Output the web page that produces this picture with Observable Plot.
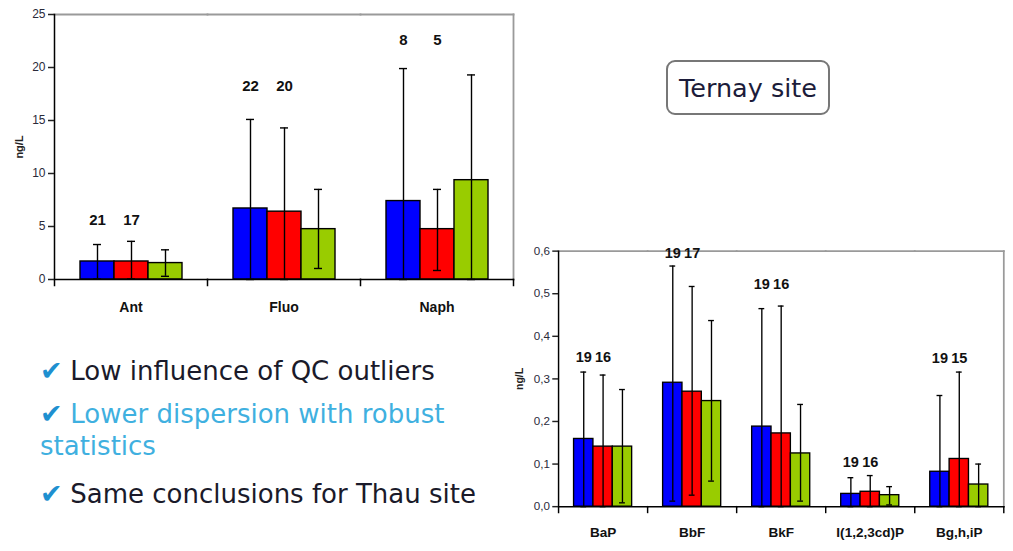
<!DOCTYPE html>
<html>
<head>
<meta charset="utf-8">
<script src="https://cdn.jsdelivr.net/npm/d3@7"></script>
<script src="https://cdn.jsdelivr.net/npm/@observablehq/plot@0.6"></script>
<style>
  html, body { margin: 0; padding: 0; background: #fff; }
  body { width: 1013px; height: 551px; overflow: hidden; position: relative; }
  .chart { position: absolute; }
  .box { position: absolute; left: 666px; top: 60px; width: 160px; height: 51px;
         border: 2px solid #777; border-radius: 9px; box-sizing: content-box;
         font-family: "DejaVu Sans", Verdana, sans-serif; font-size: 25.5px; color: #1c1c3a;
         display: flex; align-items: center; justify-content: center; }
  .bullet { position: absolute; left: 40px; font-family: "DejaVu Sans", Verdana, sans-serif;
            font-size: 26px; line-height: 32px; white-space: nowrap; color: #1a1a2a; }
  .bullet .ck { color: #1e90d0; font-size: 27px; line-height: 20px; display: inline-block; width: 22px; overflow: visible; }
  .bullet.blue { color: #3fb0e0; }
</style>
</head>
<body>
<div id="left" class="chart" style="left:0px;top:0px"></div>
<div id="right" class="chart" style="left:500px;top:240px"></div>
<div class="box">Ternay site</div>
<div class="bullet" style="top:355px"><span class="ck">✔</span> Low influence of QC outliers</div>
<div class="bullet blue" style="top:398px"><span class="ck">✔</span> Lower dispersion with robust<br>statistics</div>
<div class="bullet" style="top:478px"><span class="ck">✔</span> Same conclusions for Thau site</div>
<script>
// ---------- data ----------
const seriesNames = ["Series 1", "Series 2", "Series 3"];
const seriesColors = ["#0000ff", "#ff0000", "#99cc00"];

// Left chart (ng/L)
const leftCats = ["Ant", "Fluo", "Naph"];
const leftTicks = [0, 5, 10, 15, 20, 25];
const leftS1 = [1.7, 6.7, 7.4];
const leftS2 = [1.7, 6.4, 4.75];
const leftS3 = [1.55, 4.75, 9.37];
const leftHi1 = [3.3, 15.1, 19.9];
const leftHi2 = [3.6, 14.3, 8.5];
const leftHi3 = [2.8, 8.5, 19.3];
const leftLo1 = [0.05, 0, 0];
const leftLo2 = [0.05, 0, 0.85];
const leftLo3 = [0.3, 1.04, 0];
const leftN1 = [21, 22, 8];
const leftN2 = [17, 20, 5];
const leftNY = [5.6, 18.2, 22.6];

// Right chart (ng/L)
const rightCats = ["BaP", "BbF", "BkF", "I(1,2,3cd)P", "Bg,h,iP"];
const rightTicks = [0, 0.1, 0.2, 0.3, 0.4, 0.5, 0.6];
const rightS1 = [0.159, 0.291, 0.188, 0.030, 0.082];
const rightS2 = [0.141, 0.270, 0.172, 0.035, 0.112];
const rightS3 = [0.141, 0.248, 0.125, 0.027, 0.052];
const rightHi1 = [0.316, 0.565, 0.465, 0.068, 0.261];
const rightHi2 = [0.309, 0.517, 0.471, 0.073, 0.316];
const rightHi3 = [0.275, 0.437, 0.240, 0.047, 0.100];
const rightLo1 = [0, 0.013, 0, 0, 0];
const rightLo2 = [0, 0.027, 0, 0, 0];
const rightLo3 = [0.009, 0.060, 0.013, 0.004, 0];
const rightN1 = [19, 19, 19, 19, 19];
const rightN2 = [16, 17, 16, 16, 15];
const rightNY = [0.351, 0.594, 0.522, 0.105, 0.348];

// ---------- build ----------
function rows(cats, vals, los, his) {
  const out = [];
  cats.forEach((c, i) => seriesNames.forEach((s, j) => {
    out.push({cat: c, series: s, value: vals[j][i], lo: los[j][i], hi: his[j][i]});
  }));
  return out;
}
function labelRows(cats, n1, n2, ny) {
  const out = [];
  cats.forEach((c, i) => {
    out.push({cat: c, series: seriesNames[0], n: n1[i], y: ny[i]});
    out.push({cat: c, series: seriesNames[1], n: n2[i], y: ny[i]});
  });
  return out;
}

function chart({cats, data, labels, ticks, fmt, width, height, mt, mr, mb, ml, outer, capInset, fxPad, labelOffset}) {
  const plotH = height - mt - mb;
  return Plot.plot({
    width, height,
    marginTop: mt, marginRight: mr, marginBottom: mb, marginLeft: ml,
    style: {fontFamily: "'Liberation Sans', Arial, sans-serif", fontSize: "12px", color: "#222", background: "transparent", overflow: "visible"},
    fx: {domain: cats, paddingInner: 0, paddingOuter: 0, label: null},
    x: {domain: seriesNames, paddingInner: 0, paddingOuter: outer, axis: null},
    y: {domain: [ticks[0], ticks[ticks.length - 1]], label: null},
    color: {domain: seriesNames, range: seriesColors},
    marks: [
      Plot.frame({anchor: "top", stroke: "#9a9a9a", strokeWidth: 1.8}),
      Plot.frame({anchor: "right", facetAnchor: "right", stroke: "#9a9a9a", strokeWidth: 1.8}),
      Plot.barY(data, {fx: "cat", x: "series", y: "value", fill: "series", stroke: "#000", strokeWidth: 1.4}),
      Plot.ruleX(data, {fx: "cat", x: "series", y1: "lo", y2: "hi", stroke: "#000", strokeWidth: 1.4}),
      Plot.tickY(data, {fx: "cat", x: "series", y: "hi", stroke: "#000", strokeWidth: 1.4, insetLeft: capInset, insetRight: capInset}),
      Plot.tickY(data, {fx: "cat", x: "series", y: "lo", stroke: "#000", strokeWidth: 1.4, insetLeft: capInset, insetRight: capInset}),
      Plot.frame({anchor: "bottom", stroke: "#000", strokeWidth: 1.5}),
      Plot.frame({anchor: "left", facetAnchor: "left", stroke: "#000", strokeWidth: 1.5, insetBottom: -6}),
      Plot.frame({anchor: "right", stroke: "#000", strokeWidth: 1.5, insetTop: plotH, insetBottom: -6}),
      Plot.text(labels, {fx: "cat", x: "series", y: "y", text: "n", fontWeight: "bold", fontSize: 15, fill: "#111"}),
      Plot.axisY({ticks, tickFormat: fmt, tickSize: 6, tickPadding: 3, label: null, fill: "#2a2a3a", strokeWidth: 1.5}),
      Plot.axisY({ticks: [], label: "ng/L", labelArrow: false, labelAnchor: "center", labelOffset, fontWeight: "bold", fontSize: 11, fill: "#222"}),
      Plot.axisFx({anchor: "bottom", tickSize: 0, tickPadding: fxPad, label: null, fontWeight: "bold", fontSize: 14, fill: "#111"})
    ]
  });
}

document.getElementById("left").append(chart({
  cats: leftCats,
  data: rows(leftCats, [leftS1, leftS2, leftS3], [leftLo1, leftLo2, leftLo3], [leftHi1, leftHi2, leftHi3]),
  labels: labelRows(leftCats, leftN1, leftN2, leftNY),
  ticks: leftTicks, fmt: d => String(d),
  width: 520, height: 320, mt: 14, mr: 7, mb: 41, ml: 54,
  outer: 0.75, capInset: 13, fxPad: 23, labelOffset: 39
}));

document.getElementById("right").append(chart({
  cats: rightCats,
  data: rows(rightCats, [rightS1, rightS2, rightS3], [rightLo1, rightLo2, rightLo3], [rightHi1, rightHi2, rightHi3]),
  labels: labelRows(rightCats, rightN1, rightN2, rightNY),
  ticks: rightTicks, fmt: d => d.toFixed(1).replace(".", ","),
  width: 530, height: 311, mt: 11, mr: 10, mb: 36, ml: 60,
  outer: 0.72, capInset: 7, fxPad: 21, labelOffset: 45
}));
</script>
</body>
</html>
